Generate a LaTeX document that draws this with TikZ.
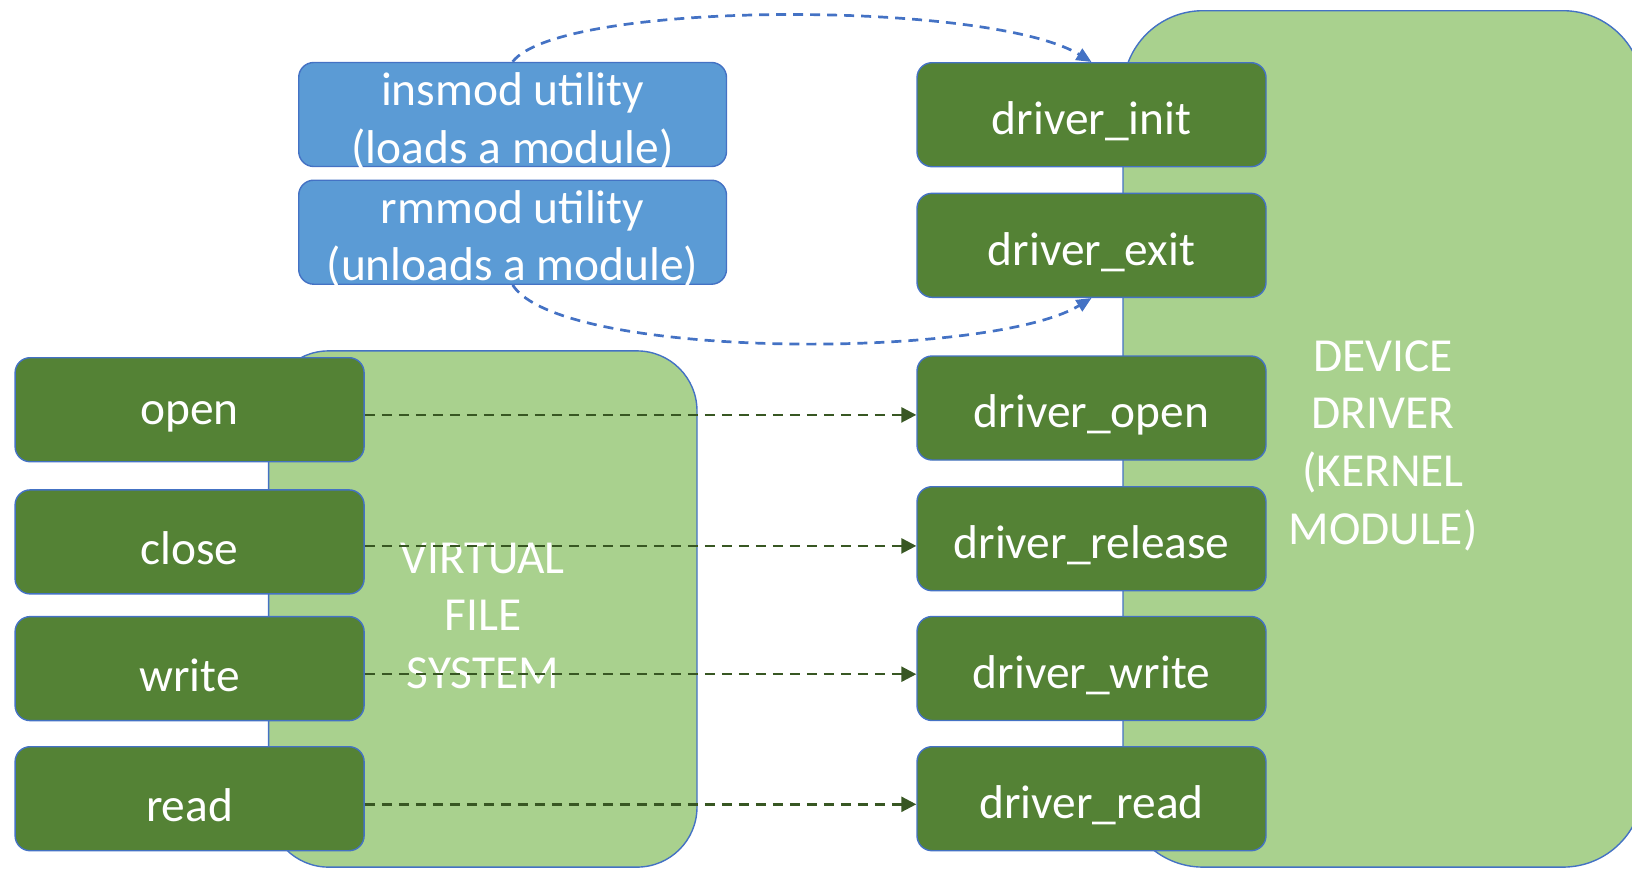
\documentclass[tikz,border=0pt]{standalone}
\usepackage{fontspec}
\setmainfont{Carlito}
\usetikzlibrary{arrows.meta}
\definecolor{darkgreen}{HTML}{548235}
\definecolor{lightgreen}{HTML}{A9D18E}
\definecolor{boxblue}{HTML}{5B9BD5}
\definecolor{edgeblue}{HTML}{4472C4}
\definecolor{linkgreen}{HTML}{385723}

\begin{document}
\begin{tikzpicture}[x=0.5pt,y=-0.5pt,
  every node/.style={font=\fontsize{23.7}{28.8}\selectfont, text=white, inner sep=0pt, align=center},
  % box text sits a little below the geometric centre
  boxtext/.style={yshift=-3.3pt},
  region/.style={draw=edgeblue, fill=lightgreen, line width=0.7pt, label={[boxtext]center:#1}},
  callbox/.style={draw=edgeblue, fill=darkgreen, rounded corners=7.5pt, line width=0.7pt,
                  minimum width=174.5pt, minimum height=52pt, label={[boxtext]center:#1}},
  toolbox/.style={draw=edgeblue, fill=boxblue, rounded corners=7.5pt, line width=0.7pt,
                  minimum width=213.9pt, minimum height=52pt, label={[boxtext]center:#1}},
  callarrow/.style={draw=linkgreen, line width=1.25pt, dash pattern=on 5pt off 3.5pt,
                    -{Triangle[length=7.5pt,width=7.5pt]}},
  modarrow/.style={draw=edgeblue, line width=1.35pt, dash pattern=on 5pt off 3.5pt,
                   -{Triangle[length=7.5pt,width=6.5pt]}},
]
\useasboundingbox (0,0) rectangle (1632,868);
\clip (0,0) rectangle (1632,868);

% large background regions
\node[region={VIRTUAL\\FILE\\SYSTEM}, rounded corners=30pt,
      minimum width=214.2pt, minimum height=258.1pt] (vfs) at (482.8,609) {};
\node[region={DEVICE\\DRIVER\\(KERNEL\\MODULE)}, rounded corners=40pt,
      minimum width=260pt, minimum height=428.2pt] (dd) at (1383,438.9) {};

% module utilities
\node[toolbox={insmod utility\\(loads a module)}]  (insmod) at (512.6,114.5) {};
\node[toolbox={rmmod utility\\(unloads a module)}] (rmmod)  at (512.6,232.2) {};

% system calls
\node[callbox={open}]  (open)  at (189.6,409.7) {};
\node[callbox={close}] (close) at (189.6,541.9) {};
\node[callbox={write}] (write) at (189.6,668.6) {};
\node[callbox={read}]  (read)  at (189.6,798.7) {};

% driver entry points
\node[callbox={driver\_init}]    (dinit)    at (1091.5,114.7) {};
\node[callbox={driver\_exit}]    (dexit)    at (1091.5,245.3) {};
\node[callbox={driver\_open}]    (dopen)    at (1091.5,408)   {};
\node[callbox={driver\_release}] (drelease) at (1091.5,538.7) {};
\node[callbox={driver\_write}]   (dwrite)   at (1091.5,668.5) {};
\node[callbox={driver\_read}]    (dread)    at (1091.5,798.7) {};

% call dispatch
\draw[callarrow] ([yshift=-2.6pt]open.east)  -- ([yshift=-2.6pt]open.east -| dopen.west);
\draw[callarrow] ([yshift=-2pt]close.east)   -- ([yshift=-2pt]close.east -| drelease.west);
\draw[callarrow] ([yshift=-2.8pt]write.east) -- ([yshift=-2.8pt]write.east -| dwrite.west);
\draw[callarrow] ([yshift=-2.8pt]read.east)  -- ([yshift=-2.8pt]read.east -| dread.west);

% module load / unload
\draw[modarrow] (insmod.north) .. controls (560,0) and (990,0) .. (dinit.north);
\draw[modarrow] (rmmod.south) .. controls (560,360) and (990,360) .. (dexit.south);
\end{tikzpicture}
\end{document}
